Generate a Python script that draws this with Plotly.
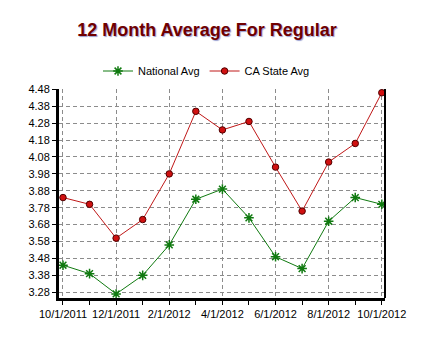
import plotly.graph_objects as go

months = ["10/1/2011", "11/1/2011", "12/1/2011", "1/1/2012", "2/1/2012", "3/1/2012",
          "4/1/2012", "5/1/2012", "6/1/2012", "7/1/2012", "8/1/2012", "9/1/2012", "10/1/2012"]
national_avg = [3.44, 3.39, 3.27, 3.38, 3.56, 3.83, 3.89, 3.72, 3.49, 3.42, 3.70, 3.84, 3.80]
ca_state_avg = [3.84, 3.80, 3.60, 3.71, 3.98, 4.35, 4.24, 4.29, 4.02, 3.76, 4.05, 4.16, 4.46]
y_ticks = [3.28, 3.38, 3.48, 3.58, 3.68, 3.78, 3.88, 3.98, 4.08, 4.18, 4.28, 4.38, 4.48]

x_idx = list(range(len(months)))
major_idx = x_idx[::2]
major_txt = [months[i] for i in major_idx]

font_family = "Liberation Sans, Arial, sans-serif"

# page body has an 8px default margin; figure is sized to fill the rest of the window
W, H = 417, 351

fig = go.Figure()
fig.add_trace(go.Scatter(
    x=x_idx, y=national_avg, name="National Avg", mode="lines+markers",
    line=dict(color="#107a10", width=1),
    marker=dict(symbol="asterisk-open", size=8, color="#107a10",
                line=dict(color="#107a10", width=1.5)),
))
fig.add_trace(go.Scatter(
    x=x_idx, y=ca_state_avg, name="CA State Avg", mode="lines+markers",
    line=dict(color="#c01818", width=1),
    marker=dict(symbol="circle", size=6.5, color="#d01010",
                line=dict(color="#500000", width=1)),
))

grid = dict(showgrid=True, gridcolor="#8c8c8c", griddash="4px,3px", gridwidth=1)

fig.update_layout(
    width=W, height=H,
    margin=dict(l=51, r=40, t=81, b=61, autoexpand=False),
    paper_bgcolor="white", plot_bgcolor="white",
    font=dict(family=font_family, size=11, color="black"),
    showlegend=True,
    title=dict(text="<b>12 Month Average For Regular</b>",
               font=dict(family=font_family, size=18, color="#700000",
                         shadow="1px 1px 1px #9aa0d0"),
               x=199 / W, xanchor="center", y=1 - 22 / H, yanchor="middle"),
    legend=dict(orientation="h", x=(206.5 - 59) / 326, xanchor="center",
                y=1 + (89 - 71) / 209, yanchor="middle",
                font=dict(family=font_family, size=11, color="black"),
                itemwidth=30, tracegroupgap=0, bgcolor="rgba(0,0,0,0)"),
    xaxis=dict(range=[-0.15, 12.12], tickmode="array", tickvals=major_idx, ticktext=major_txt,
               ticks="outside", ticklen=4, tickcolor="black", showline=True, linecolor="black",
               linewidth=3, zeroline=False,
               minor=dict(tickmode="linear", tick0=0, dtick=1, ticks="outside", ticklen=4,
                          tickcolor="black", showgrid=False),
               **grid),
    yaxis=dict(range=[3.246, 4.482], tickmode="array", tickvals=y_ticks,
               ticktext=[f"{v:.2f}" for v in y_ticks],
               ticks="outside", ticklen=4, tickcolor="black", showline=True, linecolor="black",
               linewidth=3, zeroline=False, **grid),
    shapes=[dict(type="line", xref="paper", yref="paper", x0=1, x1=1, y0=0, y1=1,
                 line=dict(color="black", width=2))],
)

fig.write_html("out.html")
